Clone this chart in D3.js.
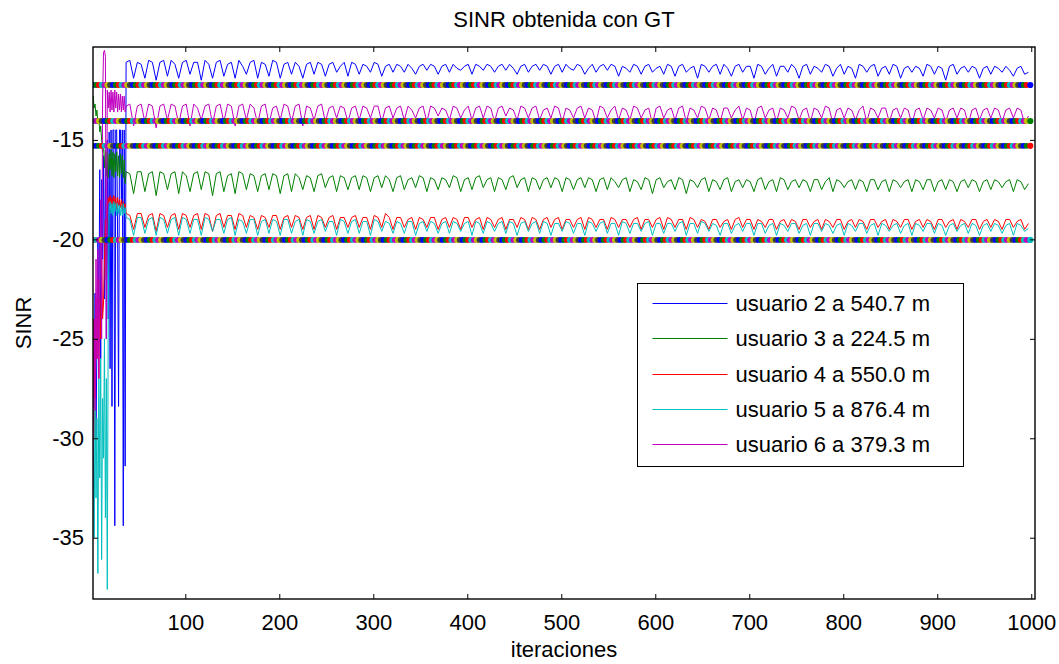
<!DOCTYPE html>
<html>
<head>
<meta charset="utf-8">
<script src="https://d3js.org/d3.v7.min.js"></script>
<style>
body { margin: 0; background: #fff; }
</style>
</head>
<body>
<script>
// ---- data ----
const userNames = ["usuario 2 a 540.7 m", "usuario 3 a 224.5 m", "usuario 4 a 550.0 m",
                   "usuario 5 a 876.4 m", "usuario 6 a 379.3 m"];
const userColors = ["#0000ff", "#008000", "#ff0000", "#00bfbf", "#bf00bf"];

// iterations 1..36 (start-up), one value per iteration
const transientU2 = [-24, -29, -27.6, -22.7, -30, -25, -20, -24, -16.5, -26, -17, -21, -15.8, -23, -16, -25, -15, -24,
  -14.6, -26.5, -14.5, -28.4, -14.5, -14.5, -34.4, -14.5, -14.5, -20, -28.4, -14.5, -14.5, -18, -14.5, -34.4, -14.5, -31.4];
const transientU3 = [-13.0, -12.8, -13.4, -13.2, -13.8, -13.5, -14.2, -13.9, -14.6, -14.3, -15.0, -15.6, -15.2, -16.4, -15.5, -16.8, -15.6, -16.9,
  -15.7, -16.5, -15.5, -16.8, -15.6, -16.9, -15.7, -16.6, -15.6, -16.8, -15.8, -16.9, -15.7, -16.7, -15.8, -16.9, -16.0, -17.2];
const transientU4 = [-33, -28, -24, -30, -23, -26, -22, -27, -23, -25, -21, -24, -23.2, -21, -19, -22, -18.3, -17.9,
  -18.2, -17.8, -18.3, -17.9, -18.4, -17.8, -18.3, -17.9, -18.5, -17.9, -18.3, -18.0, -18.4, -18.0, -18.5, -18.1, -18.4, -18.2];
const transientU5 = [-36.5, -30, -35, -28, -33, -29, -36.8, -27, -32, -26, -36.1, -28, -31, -25, -34, -27, -37.6, -24,
  -18.6, -18.1, -18.7, -18.2, -18.8, -18.1, -18.6, -18.2, -18.8, -18.2, -18.7, -18.3, -18.8, -18.3, -18.8, -18.2, -18.7, -18.4];
const transientU6 = [-37, -30, -24, -28.6, -21, -26, -20.5, -27, -22, -18, -25, -13, -10.6, -10.5, -10.8, -25, -12.5, -13.4,
  -12.6, -13.6, -12.5, -13.5, -12.6, -13.6, -12.5, -13.4, -12.6, -13.6, -12.7, -13.5, -12.7, -13.6, -12.8, -13.5, -12.8, -13.6];

// iterations 37, 41, ..., 997 (every 4th iteration)
const steadyU2 = [
  -11.1,-11.0,-11.9,-11.1,-11.2,-11.9,-11.0,-11.1,-12.0,-11.1,-11.0,-11.8,
  -11.0,-11.2,-11.9,-11.1,-11.0,-11.7,-11.1,-11.1,-12.0,-11.0,-11.2,-11.9,
  -11.1,-11.0,-11.8,-11.2,-11.1,-11.9,-11.0,-11.3,-11.7,-11.1,-11.0,-11.9,
  -11.1,-11.2,-11.8,-11.0,-11.1,-11.9,-11.2,-11.1,-11.7,-11.1,-11.3,-11.9,
  -11.2,-11.1,-11.7,-11.1,-11.2,-11.8,-11.2,-11.1,-11.6,-11.3,-11.1,-11.8,
  -11.1,-11.2,-11.7,-11.2,-11.3,-11.6,-11.1,-11.2,-11.8,-11.3,-11.2,-11.6,
  -11.2,-11.3,-11.6,-11.2,-11.4,-11.7,-11.3,-11.2,-11.5,-11.2,-11.3,-11.7,
  -11.3,-11.2,-11.6,-11.2,-11.4,-11.5,-11.3,-11.2,-11.7,-11.2,-11.3,-11.5,
  -11.2,-11.3,-11.6,-11.3,-11.2,-11.5,-11.2,-11.4,-11.7,-11.3,-11.2,-11.6,
  -11.3,-11.2,-11.5,-11.2,-11.3,-11.7,-11.3,-11.2,-11.6,-11.2,-11.4,-11.5,
  -11.2,-11.3,-11.7,-11.4,-11.2,-11.6,-11.3,-11.2,-11.5,-11.2,-11.3,-11.8,
  -11.3,-11.4,-11.6,-11.2,-11.3,-11.7,-11.3,-11.2,-11.6,-11.4,-11.3,-11.7,
  -11.2,-11.3,-11.8,-11.3,-11.2,-11.6,-11.4,-11.3,-11.9,-11.2,-11.3,-11.6,
  -11.3,-11.2,-11.7,-11.2,-11.4,-11.8,-11.3,-11.2,-11.6,-11.3,-11.3,-11.9,
  -11.2,-11.3,-11.7,-11.4,-11.2,-11.8,-11.3,-11.3,-11.6,-11.2,-11.4,-11.9,
  -11.3,-11.2,-11.7,-11.3,-11.4,-11.6,-11.2,-11.3,-11.8,-11.4,-11.2,-11.7,
  -11.3,-11.4,-11.9,-11.2,-11.3,-11.6,-11.3,-11.2,-11.8,-11.4,-11.3,-11.7,
  -11.2,-11.3,-11.9,-11.4,-11.3,-11.6,-11.3,-11.4,-11.8,-11.2,-11.3,-11.7,
  -11.3,-11.4,-12.0,-11.3,-11.2,-11.7,-11.4,-11.3,-11.6,-11.3,-11.4,-11.9,
  -11.4,-11.3,-11.7,-11.3,-11.4,-11.6,-11.3,-11.5,-11.8,-11.4,-11.3,-11.7,
  -11.6];
const steadyU3 = [
  -16.6,-16.7,-17.7,-16.6,-16.6,-17.6,-16.7,-16.6,-17.8,-16.6,-16.7,-17.5,
  -16.7,-16.6,-17.7,-16.6,-16.8,-17.6,-16.7,-16.6,-17.5,-16.6,-16.7,-17.8,
  -16.7,-16.6,-17.6,-16.8,-16.7,-17.7,-16.6,-16.7,-17.5,-16.7,-16.8,-17.6,
  -16.8,-16.7,-17.5,-16.7,-16.8,-17.7,-16.8,-16.7,-17.6,-16.7,-16.9,-17.5,
  -16.8,-16.9,-17.6,-16.8,-16.7,-17.4,-16.9,-16.8,-17.6,-16.8,-16.9,-17.5,
  -16.9,-16.8,-17.5,-16.8,-16.9,-17.6,-16.9,-16.8,-17.4,-16.8,-17.0,-17.6,
  -16.9,-16.8,-17.5,-17.0,-16.9,-17.4,-16.8,-16.9,-17.6,-16.9,-17.0,-17.5,
  -16.9,-17.0,-17.4,-16.8,-16.9,-17.6,-17.0,-16.9,-17.5,-16.9,-16.8,-17.4,
  -17.0,-16.9,-17.6,-16.9,-17.0,-17.5,-16.9,-16.8,-17.4,-17.0,-16.9,-17.6,
  -16.9,-17.0,-17.5,-17.0,-16.9,-17.4,-16.9,-17.0,-17.6,-16.9,-17.0,-17.5,
  -17.0,-16.9,-17.4,-16.9,-17.0,-17.6,-17.0,-16.9,-17.5,-16.9,-17.1,-17.4,
  -17.0,-16.9,-17.6,-17.0,-17.1,-17.5,-16.9,-17.0,-17.7,-17.0,-16.9,-17.4,
  -17.1,-17.0,-17.5,-16.9,-17.0,-17.7,-17.0,-17.1,-17.4,-17.0,-16.9,-17.6,
  -17.0,-17.1,-17.5,-17.0,-16.9,-17.6,-17.1,-17.0,-17.4,-17.0,-17.1,-17.6,
  -17.0,-16.9,-17.5,-17.1,-17.0,-17.6,-16.9,-17.0,-17.5,-17.1,-17.0,-17.4,
  -17.0,-17.1,-17.6,-17.0,-17.0,-17.5,-17.1,-16.9,-17.6,-17.0,-17.1,-17.4,
  -17.1,-17.0,-17.5,-17.0,-17.1,-17.6,-17.0,-17.0,-17.5,-17.1,-17.0,-17.6,
  -17.0,-17.1,-17.4,-17.1,-17.0,-17.6,-17.0,-17.1,-17.5,-17.0,-17.0,-17.6,
  -17.1,-17.0,-17.5,-17.0,-17.1,-17.6,-17.1,-17.0,-17.4,-17.0,-17.1,-17.6,
  -17.1,-17.0,-17.5,-17.0,-17.1,-17.4,-17.1,-17.0,-17.6,-17.0,-17.1,-17.5,
  -17.2];
const steadyU4 = [
  -18.7,-18.8,-19.5,-18.7,-18.7,-19.4,-18.8,-18.7,-19.6,-18.7,-18.8,-19.4,
  -18.8,-18.7,-19.5,-18.7,-18.8,-19.4,-18.8,-18.7,-19.5,-18.7,-18.8,-19.6,
  -18.8,-18.7,-19.4,-18.8,-18.8,-19.5,-18.7,-18.8,-19.4,-18.8,-18.9,-19.5,
  -18.8,-18.9,-19.4,-18.8,-18.8,-19.5,-18.9,-18.8,-19.4,-18.8,-18.9,-19.5,
  -18.9,-18.8,-19.5,-18.8,-18.9,-19.4,-18.9,-18.8,-19.5,-18.9,-18.9,-19.4,
  -18.9,-18.8,-19.4,-18.9,-18.9,-19.5,-18.8,-18.9,-19.4,-18.7,-18.9,-19.5,
  -18.9,-18.9,-19.4,-19.0,-18.9,-19.5,-18.9,-19.0,-19.4,-18.9,-18.9,-19.5,
  -19.0,-18.9,-19.4,-18.9,-19.0,-19.5,-18.9,-18.9,-19.4,-19.0,-18.9,-19.5,
  -18.9,-19.0,-19.4,-19.0,-18.9,-19.5,-19.0,-19.0,-19.4,-18.9,-19.0,-19.5,
  -18.9,-19.0,-19.5,-19.0,-18.9,-19.4,-19.0,-18.9,-19.5,-19.0,-19.0,-19.4,
  -19.0,-18.9,-19.5,-18.9,-19.0,-19.4,-19.0,-19.0,-19.5,-18.9,-19.0,-19.4,
  -19.0,-19.0,-19.4,-19.0,-18.9,-19.5,-19.0,-19.0,-19.4,-19.0,-18.9,-19.5,
  -18.9,-19.0,-19.4,-19.0,-19.0,-19.5,-18.9,-19.0,-19.4,-19.0,-19.1,-19.5,
  -19.0,-19.0,-19.4,-19.1,-19.0,-19.5,-19.0,-18.9,-19.4,-19.0,-19.0,-19.5,
  -19.0,-19.1,-19.4,-19.0,-19.0,-19.5,-19.1,-19.0,-19.4,-19.0,-19.1,-19.5,
  -19.0,-19.0,-19.4,-19.1,-19.0,-19.5,-19.0,-19.1,-19.4,-19.0,-19.0,-19.5,
  -19.1,-19.0,-19.4,-19.0,-19.1,-19.5,-19.0,-19.0,-19.4,-19.1,-19.0,-19.5,
  -19.0,-19.1,-19.4,-19.0,-19.0,-19.5,-19.1,-19.0,-19.4,-19.0,-19.1,-19.5,
  -19.0,-19.0,-19.4,-19.1,-19.0,-19.5,-19.0,-19.1,-19.4,-19.0,-19.0,-19.5,
  -19.1,-19.0,-19.4,-19.0,-19.1,-19.5,-19.0,-19.0,-19.4,-19.1,-19.0,-19.5,
  -19.2];
const steadyU5 = [
  -18.9,-19.0,-19.8,-18.9,-18.9,-19.7,-19.0,-18.9,-19.8,-18.9,-19.0,-19.7,
  -19.0,-18.9,-19.8,-18.9,-19.0,-19.7,-19.0,-19.0,-19.8,-18.9,-19.0,-19.6,
  -19.0,-19.0,-19.7,-19.0,-18.9,-19.8,-19.0,-19.1,-19.7,-19.0,-19.0,-19.8,
  -19.1,-19.0,-19.7,-19.0,-19.1,-19.8,-19.0,-19.0,-19.7,-19.1,-19.0,-19.8,
  -19.0,-19.1,-19.7,-19.1,-19.0,-19.6,-19.1,-19.1,-19.8,-19.0,-19.1,-19.7,
  -19.1,-19.0,-19.7,-19.1,-19.1,-19.8,-19.0,-19.1,-19.6,-19.1,-19.2,-19.7,
  -19.1,-19.2,-19.7,-19.1,-19.1,-19.8,-19.2,-19.1,-19.6,-19.1,-19.2,-19.7,
  -19.2,-19.1,-19.7,-19.1,-19.2,-19.6,-19.2,-19.1,-19.8,-19.1,-19.2,-19.7,
  -19.1,-19.2,-19.6,-19.2,-19.1,-19.7,-19.1,-19.2,-19.8,-19.2,-19.1,-19.6,
  -19.2,-19.1,-19.7,-19.1,-19.2,-19.8,-19.2,-19.2,-19.6,-19.1,-19.2,-19.7,
  -19.2,-19.2,-19.8,-19.1,-19.2,-19.6,-19.2,-19.1,-19.7,-19.2,-19.2,-19.8,
  -19.1,-19.2,-19.7,-19.2,-19.2,-19.6,-19.2,-19.1,-19.8,-19.2,-19.2,-19.7,
  -19.2,-19.2,-19.6,-19.2,-19.1,-19.8,-19.2,-19.2,-19.7,-19.1,-19.2,-19.6,
  -19.2,-19.3,-19.8,-19.2,-19.2,-19.7,-19.3,-19.2,-19.6,-19.2,-19.2,-19.8,
  -19.2,-19.2,-19.7,-19.3,-19.2,-19.8,-19.2,-19.3,-19.6,-19.2,-19.2,-19.7,
  -19.3,-19.2,-19.8,-19.2,-19.2,-19.6,-19.2,-19.3,-19.7,-19.3,-19.2,-19.8,
  -19.2,-19.3,-19.6,-19.2,-19.2,-19.7,-19.3,-19.2,-19.8,-19.2,-19.3,-19.6,
  -19.3,-19.2,-19.7,-19.3,-19.2,-19.8,-19.2,-19.3,-19.6,-19.2,-19.2,-19.7,
  -19.2,-19.3,-19.8,-19.3,-19.2,-19.6,-19.3,-19.2,-19.7,-19.2,-19.3,-19.8,
  -19.3,-19.2,-19.6,-19.2,-19.3,-19.7,-19.3,-19.2,-19.8,-19.2,-19.3,-19.6,
  -19.45];
const steadyU6 = [
  -13.3,-13.2,-14.3,-13.3,-13.2,-14.1,-13.2,-13.3,-14.4,-13.3,-13.2,-14.0,
  -13.2,-13.3,-14.2,-13.3,-13.2,-14.3,-13.2,-13.4,-14.0,-13.3,-13.2,-14.2,
  -13.3,-13.2,-14.1,-13.2,-13.3,-14.3,-13.3,-13.2,-14.0,-13.2,-13.4,-14.2,
  -13.3,-13.2,-14.2,-13.4,-13.3,-14.0,-13.2,-13.3,-14.1,-13.3,-13.2,-14.3,
  -13.3,-13.4,-14.0,-13.3,-13.2,-14.1,-13.4,-13.3,-13.9,-13.3,-13.4,-14.1,
  -13.4,-13.3,-14.0,-13.3,-13.4,-13.9,-13.3,-13.3,-14.1,-13.4,-13.3,-13.9,
  -13.4,-13.3,-14.0,-13.3,-13.5,-13.9,-13.4,-13.3,-14.1,-13.3,-13.4,-13.8,
  -13.4,-13.5,-14.0,-13.3,-13.4,-13.9,-13.5,-13.3,-14.0,-13.4,-13.3,-13.9,
  -13.3,-13.4,-14.1,-13.4,-13.3,-13.8,-13.4,-13.5,-14.0,-13.3,-13.4,-13.9,
  -13.4,-13.3,-14.0,-13.5,-13.4,-13.9,-13.3,-13.4,-14.1,-13.4,-13.5,-13.9,
  -13.4,-13.3,-13.9,-13.4,-13.5,-14.1,-13.3,-13.4,-13.9,-13.5,-13.3,-14.0,
  -13.4,-13.5,-14.0,-13.3,-13.4,-13.9,-13.5,-13.4,-14.2,-13.4,-13.3,-13.9,
  -13.5,-13.4,-14.0,-13.4,-13.3,-14.1,-13.4,-13.5,-13.9,-13.3,-13.4,-14.0,
  -13.4,-13.5,-14.1,-13.4,-13.4,-13.9,-13.5,-13.3,-14.0,-13.4,-13.5,-14.2,
  -13.4,-13.3,-13.9,-13.5,-13.4,-14.1,-13.4,-13.5,-13.9,-13.3,-13.4,-14.0,
  -13.5,-13.4,-14.1,-13.4,-13.5,-13.9,-13.3,-13.4,-14.2,-13.5,-13.4,-13.9,
  -13.4,-13.5,-14.0,-13.5,-13.3,-14.1,-13.4,-13.5,-13.9,-13.4,-13.4,-14.1,
  -13.5,-13.4,-13.9,-13.4,-13.5,-14.2,-13.5,-13.4,-14.0,-13.4,-13.5,-13.9,
  -13.4,-13.5,-14.1,-13.5,-13.4,-13.9,-13.4,-13.5,-14.2,-13.5,-13.4,-14.0,
  -13.5,-13.4,-13.9,-13.4,-13.5,-14.1,-13.5,-13.4,-13.9,-13.4,-13.5,-14.2,
  -13.8];

// thick dotted reference levels and the colour of their last marker
const bandLevels = [-12.24, -14.05, -15.30, -20.03];
const bandEndColors = ["#0000ff", "#008000", "#ff0000", "#00bfbf"];
const markerColors = ["#0000ff", "#008000", "#ff0000", "#00bfbf", "#bf00bf", "#bfbf00", "#404040"];

const xTicks = [100, 200, 300, 400, 500, 600, 700, 800, 900, 1000];
const yTicks = [-35, -30, -25, -20, -15];

// ---- canvas ----
const canvWidth = 1059, canvHeight = 664;
const svg = d3.select("body").append("svg")
    .attr("width", canvWidth)
    .attr("height", canvHeight);

const font = "'Liberation Sans', Arial, sans-serif";
const fontSize = 22;

// plot box in pixels
const margin = {top: 47, right: 24, bottom: 65, left: 93};
const width = canvWidth - margin.left - margin.right;
const height = canvHeight - margin.top - margin.bottom;

const g = svg.append("g")
    .attr("transform", "translate(" + margin.left + "," + margin.top + ")");

const xScale = d3.scaleLinear().domain([1.8, 1004]).range([0, width]);
const yScale = d3.scaleLinear().domain([-38.08, -10.33]).range([height, 0]);

g.append("clipPath").attr("id", "plot-clip")
  .append("rect").attr("width", width).attr("height", height);

// build the series: iterations 1..36 then every 4th iteration
const itTransient = d3.range(1, 37);
const itSteady = d3.range(37, 998, 4);
const transients = [transientU2, transientU3, transientU4, transientU5, transientU6];
const steadies = [steadyU2, steadyU3, steadyU4, steadyU5, steadyU6];
const series = userNames.map((name, k) => ({
  name: name,
  color: userColors[k],
  values: itTransient.map((it, j) => ({it: it, v: transients[k][j]}))
      .concat(itSteady.map((it, j) => ({it: it, v: steadies[k][j]})))
}));

const line = d3.line()
    .x(d => xScale(d.it))
    .y(d => yScale(d.v));

const plot = g.append("g").attr("clip-path", "url(#plot-clip)");

plot.selectAll("path.user")
  .data(series)
  .enter().append("path")
    .attr("class", "user")
    .attr("d", d => line(d.values))
    .attr("fill", "none")
    .attr("stroke", d => d.color)
    .attr("stroke-width", 1);

// dotted levels (multi coloured markers)
const dotIts = d3.range(2, 998, 3);
bandLevels.forEach((lev, b) => {
  const band = plot.append("g");
  band.selectAll("circle")
    .data(dotIts)
    .enter().append("circle")
      .attr("cx", d => xScale(d))
      .attr("cy", yScale(lev))
      .attr("r", 2.9)
      .attr("fill", (d, i) => markerColors[(i + b * 3) % markerColors.length]);
  band.append("circle")
      .attr("cx", xScale(999))
      .attr("cy", yScale(lev))
      .attr("r", 3.1)
      .attr("fill", bandEndColors[b]);
});

// axes (ticks inside, like matlab)
const xAxis = g.append("g")
    .attr("transform", "translate(0," + height + ")")
    .call(d3.axisBottom(xScale).tickValues(xTicks).tickSize(-5).tickPadding(15).tickFormat(d => d));
const yAxis = g.append("g")
    .call(d3.axisLeft(yScale).tickValues(yTicks).tickSize(-5).tickPadding(9).tickFormat(d => String(d)));
const xTop = g.append("g")
    .call(d3.axisTop(xScale).tickValues(xTicks).tickSize(-5).tickFormat(""));
const yRight = g.append("g")
    .attr("transform", "translate(" + width + ",0)")
    .call(d3.axisRight(yScale).tickValues(yTicks).tickSize(-5).tickFormat(""));

[xAxis, yAxis, xTop, yRight].forEach(a => {
  a.select(".domain").remove();
  a.attr("font-family", font).attr("font-size", fontSize);
  a.selectAll("line").attr("stroke", "#000");
  a.selectAll("text").attr("fill", "#000");
});

g.append("rect")
    .attr("width", width)
    .attr("height", height)
    .attr("fill", "none")
    .attr("stroke", "#000")
    .attr("stroke-width", 1.4);

// title and axis labels
svg.append("text")
    .attr("x", margin.left + width / 2)
    .attr("y", 27)
    .attr("font-family", font)
    .attr("font-size", fontSize)
    .style("text-anchor", "middle")
    .text("SINR obtenida con GT");

svg.append("text")
    .attr("x", margin.left + width / 2)
    .attr("y", 657)
    .attr("font-family", font)
    .attr("font-size", fontSize)
    .style("text-anchor", "middle")
    .text("iteraciones");

svg.append("text")
    .attr("transform", "rotate(-90)")
    .attr("x", -(margin.top + height / 2))
    .attr("y", 31)
    .attr("font-family", font)
    .attr("font-size", fontSize)
    .style("text-anchor", "middle")
    .text("SINR");

// legend
const legend = svg.append("g").attr("transform", "translate(637.5,283.5)");
legend.append("rect")
    .attr("width", 326)
    .attr("height", 183)
    .attr("fill", "#fff")
    .attr("stroke", "#000")
    .attr("stroke-width", 1);
const rows = legend.selectAll("g.row")
  .data(series)
  .enter().append("g")
    .attr("class", "row")
    .attr("transform", (d, i) => "translate(0," + Math.round(20 + i * 35.3) + ")");
rows.append("line")
    .attr("x1", 15).attr("x2", 90)
    .attr("stroke", d => d.color)
    .attr("stroke-width", 1.2);
rows.append("text")
    .attr("x", 98)
    .attr("dy", "0.35em")
    .attr("font-family", font)
    .attr("font-size", fontSize)
    .text(d => d.name);
</script>
</body>
</html>
